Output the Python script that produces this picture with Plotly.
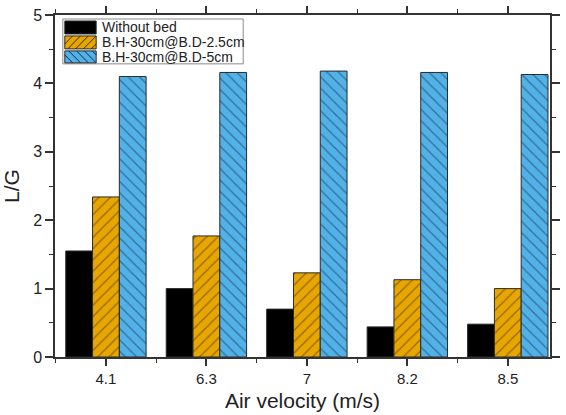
import plotly.graph_objects as go

categories = ["4.1", "6.3", "7", "8.2", "8.5"]
without_bed = [1.55, 1.00, 0.70, 0.44, 0.48]
bd_25 = [2.34, 1.77, 1.23, 1.13, 1.00]
bd_5 = [4.10, 4.16, 4.18, 4.16, 4.13]
series_names = ["Without bed", "B.H-30cm@B.D-2.5cm", "B.H-30cm@B.D-5cm"]

colors = ["#000000", "#E8A600", "#52B2E8"]
hatch = [None, "/", "\\"]
hatch_fg = [None, "#3a2c08", "#152a44"]

xpos = list(range(len(categories)))
series = [without_bed, bd_25, bd_5]

fig = go.Figure()
for vals, name, c, h, fg in zip(series, series_names, colors, hatch, hatch_fg):
    marker = dict(color=c, line=dict(color="#2a2a2a", width=1))
    if h:
        marker["pattern"] = dict(shape=h, fgcolor=fg, size=8, solidity=0.16)
    fig.add_trace(go.Bar(x=xpos, y=vals, name=name, marker=marker, showlegend=False))

# ---- custom legend (bigger swatches like the original) ----
W, H = 566, 415
ML, MR, MT, MB = 55, 6, 15, 57
pw, ph = W - ML - MR, H - MT - MB


def px(x):
    return (x - ML) / pw


def py(y):
    return (H - MB - y) / ph


shapes = []
annotations = []
# legend frame
shapes.append(dict(type="rect", xref="paper", yref="paper", layer="above",
                   x0=px(63), x1=px(247), y0=py(19), y1=py(64),
                   line=dict(color="#8a8a8a", width=1), fillcolor="white"))
rows = [(21, 34), (36, 49), (51, 63)]
sx0, sx1 = 65, 97
for (y0, y1), name, c, h, fg in zip(rows, series_names, colors, hatch, hatch_fg):
    shapes.append(dict(type="rect", xref="paper", yref="paper", layer="above",
                       x0=px(sx0), x1=px(sx1), y0=py(y1), y1=py(y0),
                       line=dict(color="#2a2a2a", width=1), fillcolor=c))
    if h:
        hh = y1 - y0
        step = 8
        segs = []
        t = sx0 - hh
        while t < sx1:
            pa = max(0.0, (sx0 - t) / hh)
            pb = min(1.0, (sx1 - t) / hh)
            if pb > pa:
                xa, xb = t + hh * pa, t + hh * pb
                if h == "/":
                    ya, yb = y1 - hh * pa, y1 - hh * pb
                else:
                    ya, yb = y0 + hh * pa, y0 + hh * pb
                segs.append(f"M{px(xa):.5f},{py(ya):.5f} L{px(xb):.5f},{py(yb):.5f}")
            t += step
        shapes.append(dict(type="path", xref="paper", yref="paper", layer="above",
                           path=" ".join(segs), line=dict(color=fg, width=1)))
    annotations.append(dict(xref="paper", yref="paper", x=px(101), y=py((y0 + y1) / 2),
                            xanchor="left", yanchor="middle", showarrow=False,
                            text=name, font=dict(size=14, color="#222")))

fig.update_layout(
    width=W, height=H,
    margin=dict(l=ML, r=MR, t=MT, b=MB),
    barmode="group", bargap=0.2, bargroupgap=0,
    plot_bgcolor="white", paper_bgcolor="white",
    font=dict(family="Liberation Sans, Arial, sans-serif", color="#222"),
    showlegend=False,
    shapes=shapes,
    annotations=annotations,
    xaxis=dict(
        tickmode="array", tickvals=xpos, ticktext=categories,
        range=[-0.507, 4.42],
        showline=True, linecolor="#333", linewidth=1.5, mirror="ticks",
        ticks="outside", ticklen=7, tickwidth=1.5, tickcolor="#333",
        minor=dict(tickvals=[-0.5, 0.5, 1.5, 2.5, 3.5], ticks="outside", ticklen=4,
                   tickcolor="#333", tickwidth=1.2),
        tickfont=dict(size=15),
        showgrid=False, zeroline=False,
        title=dict(text="Air velocity (m/s)", font=dict(size=21), standoff=8),
    ),
    yaxis=dict(
        range=[0, 5], tickvals=[0, 1, 2, 3, 4, 5],
        showline=True, linecolor="#333", linewidth=1.5, mirror="ticks",
        ticks="outside", ticklen=8, tickwidth=1.5, tickcolor="#333",
        minor=dict(dtick=0.5, ticks="outside", ticklen=4, tickcolor="#333", tickwidth=1.2),
        tickfont=dict(size=16),
        showgrid=False, zeroline=False,
        title=dict(text="L/G", font=dict(size=21), standoff=8),
    ),
)

fig.write_html("out.html")
